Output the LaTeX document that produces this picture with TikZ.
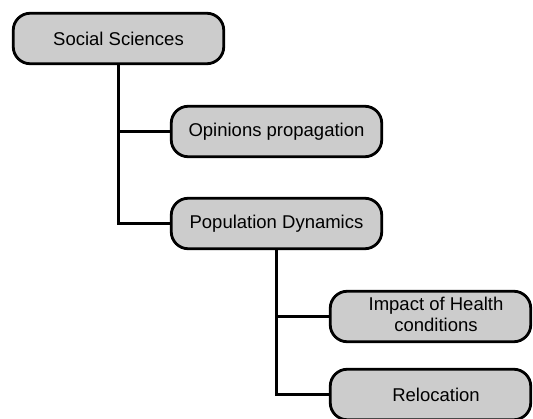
\documentclass[tikz,border=0pt]{standalone}
\usepackage{fontspec}
\setmainfont{Liberation Sans}
\definecolor{boxgray}{HTML}{CCCCCC}
\begin{document}
\begin{tikzpicture}[x=1pt,y=-1pt,
  topic/.style={draw=black, line width=2.8pt, fill=boxgray, rounded corners=17pt,
    minimum width=210.5pt, minimum height=50.5pt, inner sep=0pt,
    font=\fontsize{18.5}{21.5}\selectfont},
  link/.style={line width=2.8pt}]
\useasboundingbox (0,0) rectangle (533,419);
\clip (0,0) rectangle (533,419);

% topics
\node[topic] (ss) at (118.5,38.5) {Social Sciences};
\node[topic] (op) at (276.5,131.5) {Opinions propagation};
\node[topic] (pd) at (276.5,223.5) {Population Dynamics};
\node[topic, minimum width=200.5pt] (ih) at (430.5,316.5)
  {\hspace*{11pt}\begin{tabular}{@{}c@{}}Impact of Health\\conditions\end{tabular}};
\node[topic, minimum width=200.5pt] (rl) at (430.5,394.5) {\hspace*{11pt}Relocation};

% tree connectors
\draw[link] (ss.south) |- (pd.west);
\draw[link] (ss.south |- op.west) -- (op.west);
\draw[link] (pd.south) |- (rl.west);
\draw[link] (pd.south |- ih.west) -- (ih.west);
\end{tikzpicture}
\end{document}
